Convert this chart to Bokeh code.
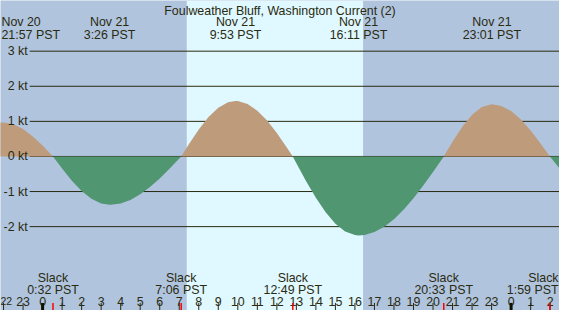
import numpy as np
from bokeh.plotting import figure
from bokeh.models import Range1d
from bokeh.embed import file_html
from bokeh.resources import INLINE
from bokeh.core.properties import value

# ---------------- data (hours from Nov 21 00:00 PST, speed in knots) ----------------
title = "Foulweather Bluff, Washington Current (2)"

hours = [-2.2, -2.05, -2.0, -1.5, -1.0, -0.5, 0.0, 0.533,
         1.0, 1.5, 2.0, 2.5, 3.0, 3.433, 3.5, 4.0, 4.5, 5.0, 5.5, 6.0, 6.5, 7.0, 7.1,
         7.5, 8.0, 8.5, 9.0, 9.5, 9.883, 10.0, 10.5, 11.0, 11.5, 12.0, 12.5, 12.817,
         13.0, 13.5, 14.0, 14.5, 15.0, 15.5, 16.0, 16.183, 16.5, 17.0, 17.5, 18.0, 18.5,
         19.0, 19.5, 20.0, 20.5, 20.55,
         21.0, 21.5, 22.0, 22.5, 23.0, 23.017, 23.5, 24.0, 24.5, 25.0, 25.5, 25.983, 26.0, 26.5]
speed = [0.966, 0.97, 0.970, 0.916, 0.779, 0.570, 0.309, 0.0,
         -0.346, -0.690, -0.984, -1.207, -1.342, -1.38, -1.379, -1.340, -1.238, -1.080, -0.873,
         -0.627, -0.351, -0.059, 0.0,
         0.354, 0.768, 1.123, 1.387, 1.543, 1.58, 1.577, 1.495, 1.305, 1.024, 0.668, 0.265, 0.0,
         -0.192, -0.705, -1.180, -1.591, -1.915, -2.137, -2.241, -2.25, -2.236, -2.154, -2.003,
         -1.787, -1.512, -1.190, -0.828, -0.441, -0.041, 0.0,
         0.421, 0.848, 1.188, 1.410, 1.490, 1.49, 1.441, 1.293, 1.053, 0.741, 0.378, 0.0,
         -0.011, -0.355]

max_times = [-2.05, 3.433, 9.883, 16.183, 23.017]
max_dates = ["Nov 20", "Nov 21", "Nov 21", "Nov 21", "Nov 21"]
max_labels = ["21:57 PST", "3:26 PST", "9:53 PST", "16:11 PST", "23:01 PST"]

slack_times = [0.533, 7.1, 12.817, 20.55, 25.983]
slack_names = ["Slack", "Slack", "Slack", "Slack", "Slack"]
slack_labels = ["0:32 PST", "7:06 PST", "12:49 PST", "20:33 PST", "1:59 PST"]

sunrise = 7 + 23 / 60
sunset = 16 + 25 / 60

kt_levels = [3, 2, 1, 0, -1, -2]
kt_labels = ["3 kt", "2 kt", "1 kt", "0 kt", "-1 kt", "-2 kt"]

hour_ticks = list(range(-2, 27))
hour_labels = [str(h % 24) for h in hour_ticks]

# ---------------- layout helpers (reference pixel -> data) ----------------
def hx(px):
    return (px - 43.3) / 20.08

def ky(py):
    return (164.0 - py) / 36.9

NIGHT = "#b0c4de"
DAY = "#e0f8ff"
FLOOD = "#bd9b7b"
EBB = "#509670"
INK = "#2a2a10"
FONT = value("Liberation Sans")
FS = "12.4px"

x0, x1 = hx(0), hx(575)
y0, y1 = ky(326), ky(0)
pad = 0.05  # hours, keeps edge labels inside the frame

p = figure(width=559, height=310, x_range=Range1d(x0, x1), y_range=Range1d(y0, y1),
           x_axis_type=None, y_axis_type=None, toolbar_location=None,
           output_backend="svg", min_border=0)
p.grid.visible = False
p.outline_line_color = None
p.background_fill_color = NIGHT
p.border_fill_color = "white"


def label(xs, ys, texts, align="center", baseline="alphabetic", size=FS):
    p.text(x=xs, y=ys, text=texts, text_align=align, text_baseline=baseline,
           text_font=FONT, text_font_size=size, text_color=INK)


# daylight band
p.quad(left=[sunrise], right=[sunset], bottom=[y0], top=[y1],
       fill_color=DAY, line_color=None)

# grid lines
p.segment(x0=[hx(30)] * len(kt_levels), x1=[x1] * len(kt_levels),
          y0=kt_levels, y1=kt_levels, line_color=INK, line_width=1)

# current fills
h = np.array(hours)
s = np.array(speed)
p.varea(x=h, y1=np.zeros_like(s), y2=np.maximum(s, 0), fill_color=FLOOD)
p.varea(x=h, y1=np.minimum(s, 0), y2=np.zeros_like(s), fill_color=EBB)

# y labels
label([hx(28)] * len(kt_levels), kt_levels, kt_labels, "right", "middle")

# title
label([(x0 + x1) / 2], [ky(11.5)], [title])

# max labels (first one sits at the left edge)
label([x0 + pad], [ky(23)], [max_dates[0]], "left")
label([x0 + pad], [ky(36)], [max_labels[0]], "left")
label(max_times[1:], [ky(23)] * 4, max_dates[1:])
label(max_times[1:], [ky(36)] * 4, max_labels[1:])

# slack labels (last one sits at the right edge)
label(slack_times[:-1], [ky(292)] * 4, slack_names[:-1])
label(slack_times[:-1], [ky(304.5)] * 4, slack_labels[:-1])
label([x1 - pad], [ky(292)], [slack_names[-1]], "right")
label([x1 - pad], [ky(304.5)], [slack_labels[-1]], "right")

# hour labels and ticks
m = len(hour_ticks)
label([x0], [ky(316.5)], [hour_labels[0]], "left", size="10.5px")
label(hour_ticks[1:], [ky(316.5)] * (m - 1), hour_labels[1:])
normal = [t for t in hour_ticks if t % 24 != 0]
midnight = [t for t in hour_ticks if t % 24 == 0]
p.segment(x0=normal, x1=normal, y0=[ky(318)] * len(normal), y1=[y0] * len(normal),
          line_color=INK, line_width=1)
p.segment(x0=midnight, x1=midnight, y0=[ky(318)] * len(midnight), y1=[y0] * len(midnight),
          line_color="#111100", line_width=3)
n = len(slack_times)
p.segment(x0=slack_times, x1=slack_times, y0=[ky(318)] * n, y1=[y0] * n,
          line_color="#ff0000", line_width=1.5)

open("out.html", "w").write(file_html(p, INLINE))
